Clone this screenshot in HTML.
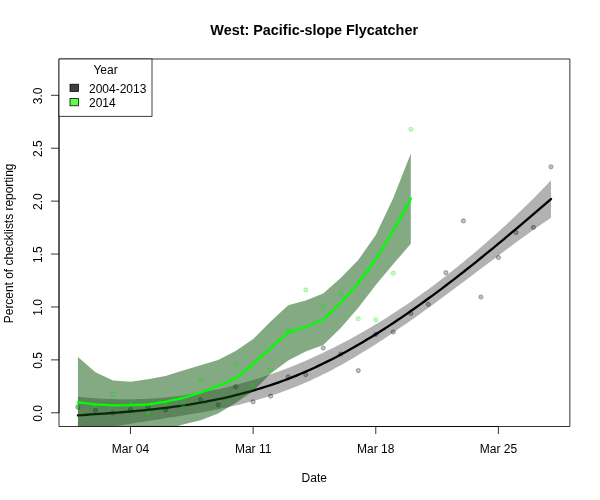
<!DOCTYPE html>
<html><head><meta charset="utf-8"><style>
html,body{margin:0;padding:0;background:#fff;}
svg{display:block;will-change:transform;}
text{font-family:"Liberation Sans",sans-serif;font-size:12px;fill:#000;}
.gp{fill:rgba(0,0,0,0.24);stroke:rgba(0,0,0,0.38);stroke-width:0.8;}
.grp{fill:rgba(0,255,0,0.25);stroke:rgba(0,200,0,0.3);stroke-width:0.8;}
</style></head><body>
<svg width="600" height="500" viewBox="0 0 600 500">
<defs><clipPath id="c"><rect x="59" y="59" width="510.5" height="367.5"/></clipPath></defs>
<rect width="600" height="500" fill="#fff"/>
<text x="314.2" y="34.6" text-anchor="middle" style="font-size:14.4px;font-weight:bold">West: Pacific-slope Flycatcher</text>
<g clip-path="url(#c)">
<path d="M77.94,396.68 L82.32,397.14 L86.70,397.56 L91.08,397.93 L95.46,398.25 L99.84,398.54 L104.22,398.77 L108.60,398.97 L112.98,399.12 L117.36,399.22 L121.74,399.28 L126.12,399.30 L130.50,399.27 L134.88,399.19 L139.26,399.07 L143.64,398.91 L148.02,398.70 L152.40,398.45 L156.78,398.15 L161.16,397.80 L165.54,397.41 L169.92,396.98 L174.30,396.50 L178.68,395.97 L183.06,395.40 L187.44,394.78 L191.82,394.12 L196.20,393.41 L200.58,392.66 L204.96,391.86 L209.34,391.02 L213.72,390.12 L218.10,389.19 L222.48,388.20 L226.86,387.17 L231.24,386.10 L235.62,384.98 L240.00,383.81 L244.38,382.59 L248.76,381.33 L253.14,380.03 L257.52,378.67 L261.90,377.27 L266.28,375.82 L270.66,374.33 L275.04,372.79 L279.42,371.20 L283.80,369.56 L288.18,367.88 L292.56,366.15 L296.94,364.38 L301.32,362.55 L305.70,360.68 L310.08,358.77 L314.46,356.80 L318.84,354.79 L323.22,352.73 L327.60,350.62 L331.98,348.47 L336.36,346.27 L340.74,344.02 L345.12,341.72 L349.50,339.38 L353.88,336.99 L358.26,334.55 L362.64,332.07 L367.02,329.54 L371.40,326.96 L375.78,324.33 L380.16,321.66 L384.54,318.94 L388.92,316.18 L393.30,313.36 L397.68,310.50 L402.06,307.59 L406.44,304.64 L410.82,301.64 L415.20,298.59 L419.58,295.49 L423.96,292.35 L428.34,289.16 L432.72,285.92 L437.10,282.64 L441.48,279.31 L445.86,275.93 L450.24,272.50 L454.62,269.03 L459.00,265.51 L463.38,261.95 L467.76,258.33 L472.14,254.67 L476.52,250.97 L480.90,247.21 L485.28,243.41 L489.66,239.57 L494.04,235.67 L498.42,231.73 L502.80,227.74 L507.18,223.71 L511.56,219.62 L515.94,215.48 L520.32,211.29 L524.70,207.05 L529.08,202.74 L533.46,198.38 L537.84,193.96 L542.22,189.47 L546.60,184.92 L550.98,180.30 L550.98,217.73 L546.60,220.70 L542.22,223.71 L537.84,226.77 L533.46,229.87 L529.08,233.00 L524.70,236.17 L520.32,239.36 L515.94,242.58 L511.56,245.82 L507.18,249.08 L502.80,252.35 L498.42,255.63 L494.04,258.92 L489.66,262.21 L485.28,265.51 L480.90,268.81 L476.52,272.11 L472.14,275.41 L467.76,278.71 L463.38,282.00 L459.00,285.29 L454.62,288.56 L450.24,291.83 L445.86,295.08 L441.48,298.33 L437.10,301.55 L432.72,304.76 L428.34,307.95 L423.96,311.12 L419.58,314.27 L415.20,317.39 L410.82,320.49 L406.44,323.56 L402.06,326.60 L397.68,329.61 L393.30,332.59 L388.92,335.53 L384.54,338.44 L380.16,341.31 L375.78,344.14 L371.40,346.93 L367.02,349.67 L362.64,352.37 L358.26,355.03 L353.88,357.63 L349.50,360.19 L345.12,362.69 L340.74,365.14 L336.36,367.54 L331.98,369.88 L327.60,372.15 L323.22,374.37 L318.84,376.53 L314.46,378.62 L310.08,380.65 L305.70,382.61 L301.32,384.50 L296.94,386.32 L292.56,388.07 L288.18,389.75 L283.80,391.37 L279.42,392.92 L275.04,394.41 L270.66,395.85 L266.28,397.22 L261.90,398.55 L257.52,399.82 L253.14,401.04 L248.76,402.21 L244.38,403.33 L240.00,404.42 L235.62,405.46 L231.24,406.46 L226.86,407.43 L222.48,408.36 L218.10,409.25 L213.72,410.12 L209.34,410.96 L204.96,411.78 L200.58,412.56 L196.20,413.33 L191.82,414.08 L187.44,414.81 L183.06,415.53 L178.68,416.23 L174.30,416.93 L169.92,417.61 L165.54,418.29 L161.16,418.97 L156.78,419.64 L152.40,420.31 L148.02,420.99 L143.64,421.67 L139.26,422.36 L134.88,423.06 L130.50,423.77 L126.12,424.49 L121.74,425.23 L117.36,425.98 L112.98,426.76 L108.60,427.56 L104.22,428.38 L99.84,429.23 L95.46,430.11 L91.08,431.02 L86.70,431.96 L82.32,432.94 L77.94,433.96 Z" fill="rgba(0,0,0,0.3)"/>
<circle cx="77.94" cy="407.30" r="2.1" class="gp"/><circle cx="95.46" cy="410.30" r="2.1" class="gp"/><circle cx="112.98" cy="413.00" r="2.1" class="gp"/><circle cx="130.50" cy="409.50" r="2.1" class="gp"/><circle cx="148.02" cy="407.20" r="2.1" class="gp"/><circle cx="165.54" cy="410.00" r="2.1" class="gp"/><circle cx="200.58" cy="399.70" r="2.1" class="gp"/><circle cx="218.10" cy="405.00" r="2.1" class="gp"/><circle cx="235.62" cy="386.70" r="2.1" class="gp"/><circle cx="253.14" cy="401.80" r="2.1" class="gp"/><circle cx="270.66" cy="396.20" r="2.1" class="gp"/><circle cx="288.18" cy="376.80" r="2.1" class="gp"/><circle cx="305.70" cy="374.60" r="2.1" class="gp"/><circle cx="323.22" cy="348.00" r="2.1" class="gp"/><circle cx="340.74" cy="354.00" r="2.1" class="gp"/><circle cx="358.26" cy="370.60" r="2.1" class="gp"/><circle cx="375.78" cy="334.40" r="2.1" class="gp"/><circle cx="393.30" cy="332.00" r="2.1" class="gp"/><circle cx="410.82" cy="313.40" r="2.1" class="gp"/><circle cx="428.34" cy="304.40" r="2.1" class="gp"/><circle cx="445.86" cy="272.70" r="2.1" class="gp"/><circle cx="463.38" cy="220.90" r="2.1" class="gp"/><circle cx="480.90" cy="297.00" r="2.1" class="gp"/><circle cx="498.42" cy="257.50" r="2.1" class="gp"/><circle cx="515.94" cy="232.60" r="2.1" class="gp"/><circle cx="533.46" cy="227.40" r="2.1" class="gp"/><circle cx="550.98" cy="166.80" r="2.1" class="gp"/>
<path d="M77.94,415.32 L82.32,415.04 L86.70,414.76 L91.08,414.47 L95.46,414.18 L99.84,413.88 L104.22,413.58 L108.60,413.26 L112.98,412.94 L117.36,412.60 L121.74,412.25 L126.12,411.89 L130.50,411.52 L134.88,411.12 L139.26,410.72 L143.64,410.29 L148.02,409.84 L152.40,409.38 L156.78,408.89 L161.16,408.38 L165.54,407.85 L169.92,407.30 L174.30,406.71 L178.68,406.10 L183.06,405.47 L187.44,404.80 L191.82,404.10 L196.20,403.37 L200.58,402.61 L204.96,401.82 L209.34,400.99 L213.72,400.12 L218.10,399.22 L222.48,398.28 L226.86,397.30 L231.24,396.28 L235.62,395.22 L240.00,394.11 L244.38,392.96 L248.76,391.77 L253.14,390.53 L257.52,389.24 L261.90,387.91 L266.28,386.52 L270.66,385.09 L275.04,383.60 L279.42,382.06 L283.80,380.47 L288.18,378.82 L292.56,377.11 L296.94,375.35 L301.32,373.53 L305.70,371.65 L310.08,369.71 L314.46,367.71 L318.84,365.66 L323.22,363.55 L327.60,361.39 L331.98,359.17 L336.36,356.90 L340.74,354.58 L345.12,352.21 L349.50,349.78 L353.88,347.31 L358.26,344.79 L362.64,342.22 L367.02,339.61 L371.40,336.94 L375.78,334.24 L380.16,331.49 L384.54,328.69 L388.92,325.85 L393.30,322.98 L397.68,320.06 L402.06,317.10 L406.44,314.10 L410.82,311.06 L415.20,307.99 L419.58,304.88 L423.96,301.73 L428.34,298.55 L432.72,295.34 L437.10,292.09 L441.48,288.82 L445.86,285.51 L450.24,282.17 L454.62,278.80 L459.00,275.40 L463.38,271.97 L467.76,268.52 L472.14,265.04 L476.52,261.54 L480.90,258.01 L485.28,254.46 L489.66,250.89 L494.04,247.30 L498.42,243.68 L502.80,240.05 L507.18,236.39 L511.56,232.72 L515.94,229.03 L520.32,225.33 L524.70,221.61 L529.08,217.87 L533.46,214.12 L537.84,210.36 L542.22,206.59 L546.60,202.81 L550.98,199.01" fill="none" stroke="#000" stroke-width="2.3" stroke-linejoin="round" stroke-linecap="round"/>
<path d="M77.94,357.00 L95.46,372.20 L112.98,380.60 L130.50,381.70 L148.02,379.30 L165.54,376.00 L183.06,370.50 L200.58,365.30 L218.10,360.10 L235.62,351.00 L253.14,339.10 L270.66,321.40 L288.18,305.30 L305.70,300.40 L323.22,293.40 L340.74,278.10 L358.26,260.00 L375.78,235.00 L393.30,198.00 L410.82,153.40 L410.82,243.70 L393.30,264.10 L375.78,285.00 L358.26,307.70 L340.74,328.00 L323.22,345.00 L305.70,351.50 L288.18,360.40 L270.66,373.50 L253.14,391.00 L235.62,403.00 L218.10,413.50 L200.58,420.30 L183.06,424.60 L165.54,429.33 L148.02,434.06 L130.50,438.79 L112.98,443.52 L95.46,448.25 L77.94,452.98 Z" fill="rgba(8,85,8,0.5)"/>
<circle cx="77.94" cy="405.80" r="2.1" class="grp"/><circle cx="95.46" cy="406.40" r="2.1" class="grp"/><circle cx="112.98" cy="394.40" r="2.1" class="grp"/><circle cx="130.50" cy="403.20" r="2.1" class="grp"/><circle cx="148.02" cy="412.80" r="2.1" class="grp"/><circle cx="165.54" cy="403.70" r="2.1" class="grp"/><circle cx="183.06" cy="405.00" r="2.1" class="grp"/><circle cx="200.58" cy="380.10" r="2.1" class="grp"/><circle cx="235.62" cy="364.60" r="2.1" class="grp"/><circle cx="253.14" cy="385.40" r="2.1" class="grp"/><circle cx="270.66" cy="369.80" r="2.1" class="grp"/><circle cx="288.18" cy="329.80" r="2.1" class="grp"/><circle cx="305.70" cy="289.90" r="2.1" class="grp"/><circle cx="323.22" cy="306.00" r="2.1" class="grp"/><circle cx="340.74" cy="294.00" r="2.1" class="grp"/><circle cx="358.26" cy="318.70" r="2.1" class="grp"/><circle cx="375.78" cy="319.80" r="2.1" class="grp"/><circle cx="393.30" cy="273.20" r="2.1" class="grp"/><circle cx="410.82" cy="129.30" r="2.1" class="grp"/>
<path d="M77.94,402.30 L95.46,404.30 L112.98,405.30 L130.50,405.20 L148.02,404.50 L165.54,401.70 L183.06,398.00 L200.58,392.60 L218.10,386.00 L235.62,378.30 L253.14,364.00 L270.66,347.60 L288.18,332.60 L305.70,327.00 L323.22,319.70 L340.74,302.50 L358.26,283.50 L375.78,259.00 L393.30,231.00 L410.82,198.60" fill="none" stroke="#00ff00" stroke-width="2.3" stroke-linejoin="round" stroke-linecap="round"/>
</g>
<g stroke="#000" fill="none">
<path d="M59,59 L569.85,59 L569.85,426.5 L59,426.5 Z" stroke-width="0.8"/>
<line x1="59" y1="412.80" x2="59" y2="95.31" stroke-width="0.8"/>
<line x1="130.50" y1="426.5" x2="498.42" y2="426.5" stroke-width="0.8"/>
<g stroke-width="0.8"><line x1="51" y1="412.80" x2="59" y2="412.80"/><line x1="51" y1="359.88" x2="59" y2="359.88"/><line x1="51" y1="306.97" x2="59" y2="306.97"/><line x1="51" y1="254.06" x2="59" y2="254.06"/><line x1="51" y1="201.14" x2="59" y2="201.14"/><line x1="51" y1="148.23" x2="59" y2="148.23"/><line x1="51" y1="95.31" x2="59" y2="95.31"/><line x1="130.50" y1="426.5" x2="130.50" y2="434"/><line x1="253.14" y1="426.5" x2="253.14" y2="434"/><line x1="375.78" y1="426.5" x2="375.78" y2="434"/><line x1="498.42" y1="426.5" x2="498.42" y2="434"/></g>
</g>
<text transform="translate(42,413.30) rotate(-90)" text-anchor="middle">0.0</text><text transform="translate(42,360.38) rotate(-90)" text-anchor="middle">0.5</text><text transform="translate(42,307.47) rotate(-90)" text-anchor="middle">1.0</text><text transform="translate(42,254.56) rotate(-90)" text-anchor="middle">1.5</text><text transform="translate(42,201.64) rotate(-90)" text-anchor="middle">2.0</text><text transform="translate(42,148.73) rotate(-90)" text-anchor="middle">2.5</text><text transform="translate(42,95.81) rotate(-90)" text-anchor="middle">3.0</text><text x="130.50" y="453" text-anchor="middle">Mar 04</text><text x="253.14" y="453" text-anchor="middle">Mar 11</text><text x="375.78" y="453" text-anchor="middle">Mar 18</text><text x="498.42" y="453" text-anchor="middle">Mar 25</text>
<text x="314.25" y="481.7" text-anchor="middle">Date</text>
<text transform="translate(12.8,243.35) rotate(-90)" text-anchor="middle" style="letter-spacing:-0.033px">Percent of checklists reporting</text>
<rect x="59" y="59" width="93" height="57.3" fill="#fff" stroke="#000" stroke-width="0.75"/>
<text x="105.5" y="73.8" text-anchor="middle">Year</text>
<rect x="70" y="84.2" width="8.5" height="7.2" fill="#404040" stroke="#000" stroke-width="0.75"/>
<rect x="70" y="98.5" width="8.5" height="7.3" fill="#5cff48" stroke="#000" stroke-width="0.75"/>
<text x="89" y="92.7">2004-2013</text>
<text x="89" y="106.6">2014</text>
</svg>
</body></html>
